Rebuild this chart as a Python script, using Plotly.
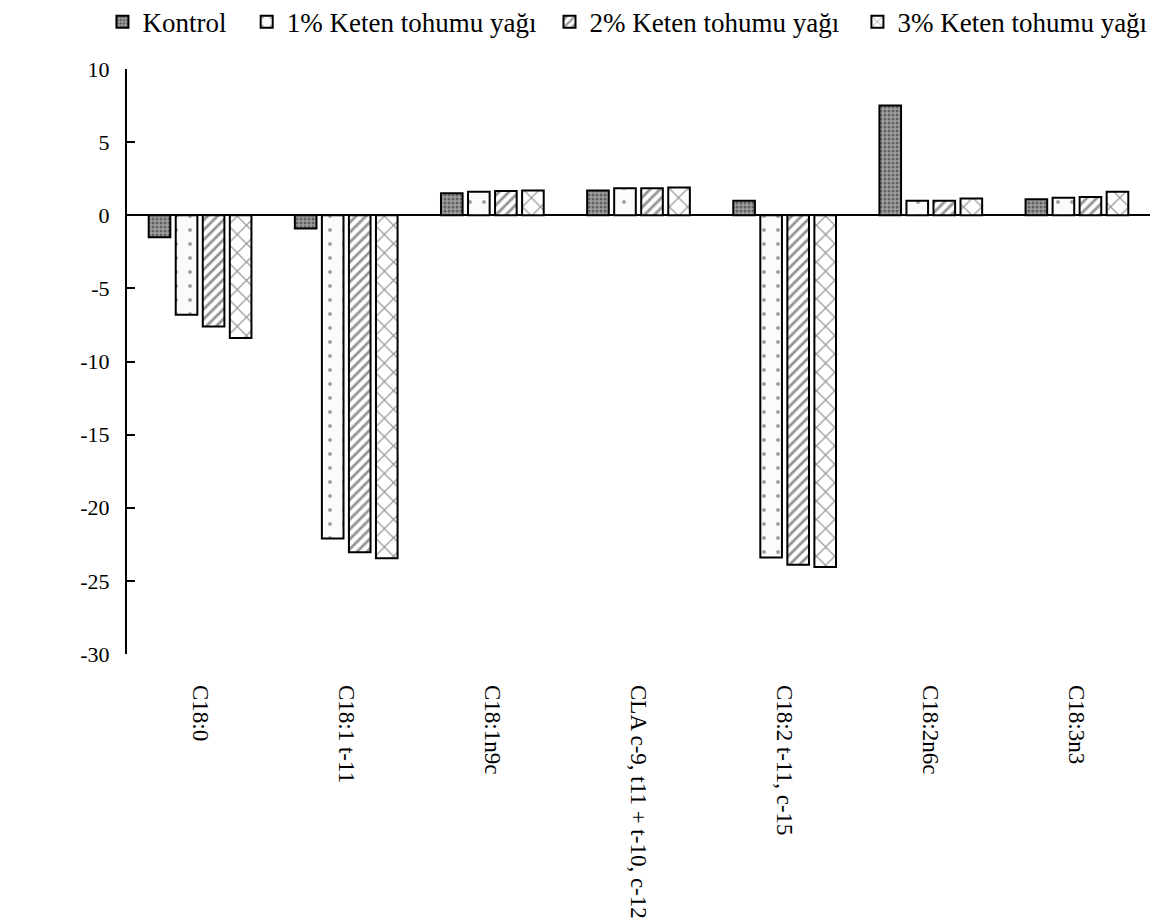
import plotly.graph_objects as go

categories = ["C18:0", "C18:1 t-11", "C18:1n9c", "CLA c-9, t11 + t-10, c-12",
              "C18:2 t-11, c-15", "C18:2n6c", "C18:3n3"]
series_names = ["Kontrol", "1% Keten tohumu yağı", "2% Keten tohumu yağı", "3% Keten tohumu yağı"]
kontrol = [-1.5, -0.9, 1.5, 1.7, 1.0, 7.5, 1.1]
keten_1 = [-6.8, -22.1, 1.6, 1.85, -23.4, 1.0, 1.2]
keten_2 = [-7.6, -23.05, 1.65, 1.85, -23.9, 1.0, 1.25]
keten_3 = [-8.4, -23.45, 1.7, 1.9, -24.05, 1.15, 1.6]
ytick_vals = [10, 5, 0, -5, -10, -15, -20, -25, -30]
ytick_text = ["10", "5", "0", "-5", "-10", "-15", "-20", "-25", "-30"]

patterns = [
    dict(shape=".", bgcolor="#a0a0a0", fgcolor="#222222", size=4, solidity=0.45),
    dict(shape=".", bgcolor="#fbfbfb", fgcolor="#444444", size=14, solidity=0.06),
    dict(shape="/", bgcolor="#ffffff", fgcolor="#2a2a2a", size=7, solidity=0.4),
    dict(shape="x", bgcolor="#ffffff", fgcolor="#333333", size=13, solidity=0.18),
]
legend_ids = ["legend", "legend2", "legend3", "legend4"]
legend_x = [-0.024, 0.117, 0.413, 0.714]

FONT = "Liberation Serif, Times New Roman, serif"

fig = go.Figure()
for name, vals, pat, lid in zip(series_names, [kontrol, keten_1, keten_2, keten_3], patterns, legend_ids):
    fig.add_trace(go.Bar(
        x=categories, y=vals, name=name, legend=lid,
        marker=dict(color="white", pattern=pat, line=dict(color="black", width=2)),
    ))

legend_common = dict(orientation="h", xanchor="left", y=1.08, yanchor="middle",
                     font=dict(family=FONT, size=27), itemwidth=30,
                     bgcolor="rgba(0,0,0,0)")
legend_layout = {lid: dict(x=lx, **legend_common) for lid, lx in zip(legend_ids, legend_x)}

fig.update_layout(
    width=1168, height=920,
    paper_bgcolor="white", plot_bgcolor="white",
    barmode="group", bargap=0.26, bargroupgap=0.2,
    margin=dict(l=119, r=26, t=61, b=274, autoexpand=False),
    font=dict(family=FONT, size=22, color="black"),
    showlegend=True,
    xaxis=dict(type="category", showline=False, ticks="", tickangle=90,
               showgrid=False, zeroline=False, ticklabelstandoff=30,
               tickfont=dict(family=FONT, size=23)),
    yaxis=dict(range=[-30, 10], tickvals=ytick_vals, ticktext=ytick_text,
               showline=True, linecolor="black", linewidth=2,
               ticks="inside", ticklen=8, tickwidth=2, tickcolor="black",
               showgrid=False, zeroline=True, zerolinecolor="black", zerolinewidth=2,
               ticklabelstandoff=11, tickfont=dict(family=FONT, size=22)),
    **legend_layout,
)

fig.write_html("out.html")
